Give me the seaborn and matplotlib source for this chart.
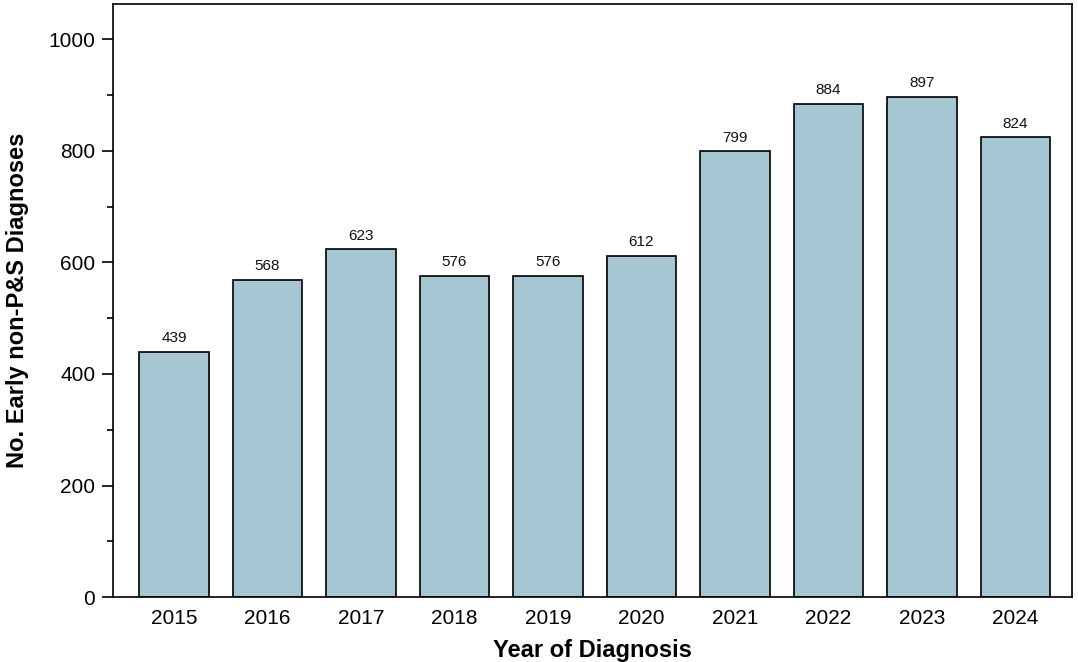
import pandas as pd
import matplotlib
matplotlib.use("Agg")
import matplotlib.pyplot as plt
from matplotlib.ticker import MultipleLocator
import seaborn as sns

years = ["2015", "2016", "2017", "2018", "2019", "2020", "2021", "2022", "2023", "2024"]
diagnoses = [439, 568, 623, 576, 576, 612, 799, 884, 897, 824]


def paint_bars(df):
    sns.set_style("white")
    plt.rcParams['font.family'] = ['Liberation Sans', 'DejaVu Sans']
    plt.rcParams['text.color'] = 'black'
    plt.rcParams['axes.labelcolor'] = 'black'
    plt.rcParams['xtick.color'] = 'black'
    plt.rcParams['ytick.color'] = 'black'

    fig, ax = plt.subplots(figsize=(10.78, 6.62), dpi=100)
    sns.barplot(data=df, x="year", y="count", color="#a5c6d2", saturation=1,
                edgecolor="black", linewidth=1.2, width=0.74, ax=ax)

    for patch, val in zip(ax.patches, df["count"]):
        ax.text(patch.get_x() + patch.get_width() / 2, val + 12, f"{val}",
                ha="center", va="bottom", fontsize=11, color="#111111")

    ax.set_xlim(-0.65, 9.6)
    ax.set_ylim(0, 1063)
    ax.yaxis.set_major_locator(MultipleLocator(200))
    ax.yaxis.set_minor_locator(MultipleLocator(100))
    ax.tick_params(axis="y", which="major", left=True, length=8, width=1.2,
                   labelsize=15, pad=5)
    ax.tick_params(axis="y", which="minor", left=True, length=4, width=1.2)
    ax.tick_params(axis="x", bottom=False, labelsize=15, pad=5)

    for s in ax.spines.values():
        s.set_color("black")
        s.set_linewidth(1.2)

    ax.set_xlabel("Year of Diagnosis", fontsize=17, fontweight="bold", labelpad=8)
    ax.set_ylabel("No. Early non-P&S Diagnoses", fontsize=17, fontweight="bold", labelpad=14)

    fig.subplots_adjust(left=0.105, right=0.994, top=0.994, bottom=0.098)
    fig.savefig("out.png", dpi=100)


if __name__ == '__main__':
    df = pd.DataFrame({"year": years, "count": diagnoses})
    paint_bars(df)
